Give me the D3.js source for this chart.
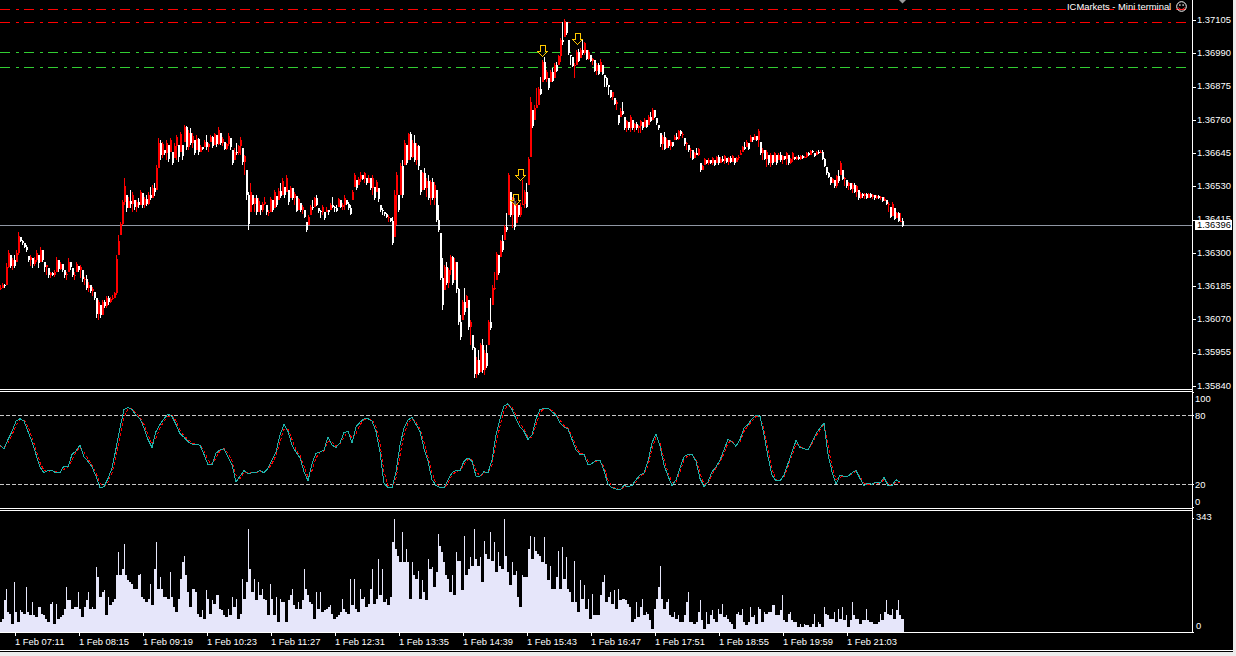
<!DOCTYPE html>
<html><head><meta charset="utf-8">
<script src="https://cdn.jsdelivr.net/npm/d3@7/dist/d3.min.js"></script>
<style>
html,body{margin:0;padding:0;background:#000;overflow:hidden}
svg{display:block}
text{font-family:"Liberation Sans",Arial,sans-serif;font-size:9.4px;fill:#fff}
.crisp{shape-rendering:crispEdges}
</style></head><body>
<svg id="c" width="1236" height="656"></svg>
<script>
// Prices are in points above 1.35000
const highs=[
1189,1196,1192,1265,1310,1293,1282,1293,1310,1372,
1355,1345,1334,1327,1289,1293,1282,1286,1310,1293,
1320,1310,1268,1258,1248,1234,1234,1241,1286,1275,
1268,1262,1241,1234,1282,1268,1248,1234,1268,1255,
1258,1241,1217,1224,1199,1189,1182,1165,1144,1137,
1120,1137,1137,1151,1151,1148,1154,1165,1293,1362,
1407,1483,1559,1500,1493,1517,1510,1483,1483,1490,
1517,1507,1493,1500,1510,1528,1535,1542,1604,1697,
1690,1683,1656,1690,1673,1697,1649,1680,1707,1673,
1718,1673,1742,1739,1725,1732,1714,1690,1707,1697,
1673,1666,1690,1707,1680,1707,1704,1714,1707,1735,
1714,1701,1683,1680,1714,1697,1656,1663,1680,1673,
1701,1663,1638,1586,1510,1542,1500,1490,1500,1490,
1466,1476,1493,1466,1448,1493,1483,1517,1497,1524,
1542,1559,1528,1569,1517,1531,1524,1510,1497,1490,
1472,1466,1448,1407,1431,1466,1483,1493,1500,1455,
1448,1466,1441,1459,1448,1472,1493,1462,1466,1490,
1483,1472,1500,1483,1476,1466,1517,1576,1552,1562,
1579,1569,1579,1559,1569,1559,1569,1528,1552,1524,
1466,1455,1441,1438,1431,1421,1424,1517,1579,1500,
1611,1621,1690,1673,1714,1718,1690,1707,1680,1673,
1586,1579,1593,1559,1569,1552,1559,1545,1517,1466,
1369,1282,1258,1268,1248,1293,1289,1282,1268,1179,
1085,1137,1179,1154,1137,1068,1016,975,940,964,
989,1002,964,982,1068,1144,1189,1234,1303,1293,
1345,1362,1396,1438,1576,1510,1493,1490,1483,1466,
1472,1552,1517,1542,1631,1839,1794,1811,1870,1873,
1908,1967,1977,1932,1904,1932,1939,1956,1960,1984,
2043,2098,2108,2098,2036,1984,1977,1956,2001,2004,
2008,2039,2029,2001,2001,1984,1974,1967,1956,1956,
1970,1949,1915,1908,1880,1863,1856,1835,1828,1777,
1801,1821,1770,1759,1752,1777,1759,1749,1752,1742,
1759,1752,1766,1759,1777,1787,1801,1794,1766,1742,
1714,1707,1718,1697,1690,1690,1683,1707,1714,1725,
1725,1718,1697,1683,1673,1663,1656,1649,1663,1663,
1611,1604,1628,1621,1628,1621,1631,1621,1635,1638,
1631,1635,1638,1628,1631,1635,1638,1628,1631,1638,
1656,1669,1683,1690,1680,1707,1701,1711,1704,1728,
1683,1663,1656,1656,1638,1645,1638,1649,1638,1645,
1649,1638,1635,1649,1638,1628,1649,1631,1635,1638,
1638,1638,1635,1649,1649,1656,1656,1645,1652,1656,
1656,1656,1628,1597,1579,1562,1559,1552,1569,1586,
1618,1586,1562,1552,1545,1542,1542,1542,1535,1517,
1510,1507,1507,1507,1507,1507,1504,1500,1500,1500,
1497,1493,1493,1483,1476,1459,1476,1455,1441,1441,
1438,1421];
const lows=[
1172,1179,1179,1189,1248,1248,1241,1248,1268,1293,
1338,1327,1317,1303,1268,1255,1248,1255,1268,1248,
1268,1268,1234,1224,1213,1213,1220,1217,1234,1234,
1241,1234,1213,1206,1234,1241,1217,1206,1234,1234,
1213,1199,1189,1172,1165,1161,1151,1137,1075,1068,
1075,1085,1110,1110,1120,1127,1137,1144,1154,1293,
1362,1396,1466,1441,1455,1455,1441,1448,1441,1455,
1466,1455,1455,1462,1466,1483,1490,1497,1517,1593,
1621,1628,1638,1621,1614,1649,1604,1628,1621,1614,
1649,1621,1683,1656,1656,1673,1663,1638,1656,1638,
1649,1656,1666,1656,1649,1683,1663,1673,1666,1673,
1673,1669,1656,1656,1669,1656,1604,1621,1638,1638,
1638,1604,1569,1483,1379,1441,1466,1441,1431,1441,
1431,1441,1466,1431,1427,1441,1441,1455,1459,1483,
1490,1500,1490,1510,1466,1490,1483,1466,1441,1448,
1441,1434,1421,1372,1396,1431,1448,1459,1462,1438,
1421,1431,1414,1441,1431,1448,1455,1441,1441,1459,
1455,1448,1448,1466,1448,1431,1483,1528,1517,1535,
1545,1552,1541,1535,1541,1517,1500,1483,1510,1476,
1441,1431,1427,1421,1407,1407,1327,1355,1396,1441,
1500,1490,1604,1604,1621,1621,1628,1614,1604,1586,
1500,1517,1517,1493,1483,1466,1483,1466,1407,1372,
1206,1103,1172,1189,1179,1224,1189,1206,1161,1051,
999,1068,1085,1110,1033,982,964,868,868,878,
888,885,878,902,982,1033,1120,1172,1206,1224,
1286,1303,1345,1372,1431,1424,1386,1379,1403,1424,
1424,1466,1455,1455,1535,1631,1732,1759,1801,1811,
1846,1891,1898,1891,1863,1891,1891,1904,1925,1949,
1960,2018,2046,2053,1984,1949,1942,1904,1949,1960,
1974,1984,1984,1967,1967,1960,1949,1925,1915,1915,
1925,1915,1873,1873,1846,1835,1828,1811,1794,1742,
1770,1777,1725,1718,1725,1718,1725,1718,1725,1714,
1714,1725,1735,1732,1742,1752,1759,1766,1742,1725,
1666,1656,1656,1663,1663,1656,1666,1690,1690,1690,
1704,1697,1669,1656,1649,1628,1621,1628,1638,1635,
1580,1587,1604,1607,1604,1607,1604,1600,1611,1604,
1611,1614,1607,1611,1604,1611,1614,1604,1614,1621,
1638,1649,1656,1666,1656,1683,1683,1690,1687,1666,
1638,1621,1621,1597,1604,1597,1604,1614,1604,1621,
1614,1607,1621,1604,1604,1607,1614,1621,1621,1621,
1621,1625,1628,1628,1635,1638,1645,1631,1638,1642,
1645,1621,1597,1569,1559,1535,1542,1524,1524,1542,
1569,1552,1531,1524,1517,1517,1507,1507,1493,1483,
1486,1490,1486,1486,1490,1490,1486,1483,1486,1486,
1483,1476,1479,1466,1441,1421,1427,1414,1421,1407,
1407,1389];
const closes=[
1180,1190,1185,1250,1300,1255,1275,1255,1300,1360,
1340,1335,1320,1310,1275,1285,1260,1275,1300,1265,
1310,1275,1250,1262,1225,1230,1225,1235,1275,1245,
1260,1240,1225,1228,1270,1250,1225,1225,1262,1240,
1250,1210,1210,1180,1190,1170,1175,1145,1090,1130,
1085,1130,1115,1145,1130,1140,1145,1160,1280,1340,
1400,1475,1530,1455,1480,1470,1500,1460,1475,1465,
1510,1465,1485,1470,1500,1490,1525,1510,1595,1680,
1640,1675,1645,1680,1625,1690,1610,1670,1700,1630,
1710,1635,1735,1665,1715,1680,1705,1645,1695,1650,
1665,1660,1685,1665,1675,1700,1670,1710,1675,1725,
1680,1695,1660,1675,1705,1665,1610,1650,1645,1668,
1690,1615,1635,1500,1400,1510,1470,1490,1440,1480,
1450,1470,1475,1440,1440,1485,1450,1510,1465,1515,
1495,1550,1500,1560,1475,1525,1490,1505,1445,1485,
1450,1460,1425,1380,1425,1460,1455,1490,1465,1445,
1440,1460,1420,1450,1440,1465,1460,1455,1445,1485,
1460,1465,1490,1470,1455,1435,1510,1570,1525,1555,
1570,1555,1575,1540,1560,1525,1560,1490,1545,1485,
1450,1445,1435,1425,1425,1410,1335,1500,1570,1450,
1600,1500,1680,1610,1710,1630,1680,1620,1670,1600,
1510,1575,1525,1550,1490,1545,1490,1535,1415,1380,
1215,1120,1250,1195,1240,1285,1195,1270,1175,1060,
1010,1130,1095,1150,1045,1060,970,880,930,885,
980,895,955,910,1060,1040,1180,1180,1295,1230,
1340,1310,1390,1380,1570,1430,1480,1390,1470,1430,
1460,1470,1510,1460,1625,1820,1740,1800,1810,1865,
1850,1960,1900,1925,1870,1925,1895,1950,1930,1980,
2035,2030,2100,2060,1990,1980,1945,1950,1995,1965,
2000,1990,2025,1970,1995,1965,1970,1930,1950,1920,
1960,1920,1905,1880,1875,1840,1860,1815,1820,1750,
1790,1780,1730,1755,1730,1770,1730,1745,1730,1738,
1755,1730,1760,1735,1770,1755,1795,1770,1750,1730,
1675,1700,1660,1690,1670,1685,1670,1700,1695,1720,
1710,1712,1675,1680,1655,1655,1625,1645,1640,1660,
1585,1600,1625,1610,1622,1610,1628,1605,1630,1610,
1625,1618,1635,1615,1628,1615,1635,1610,1628,1630,
1645,1665,1660,1685,1660,1700,1690,1705,1690,1720,
1645,1655,1625,1650,1610,1640,1610,1645,1610,1640,
1620,1635,1625,1645,1610,1625,1645,1625,1630,1625,
1635,1628,1632,1645,1640,1652,1648,1635,1650,1645,
1650,1625,1600,1575,1562,1540,1555,1530,1565,1550,
1610,1555,1558,1530,1540,1520,1535,1510,1530,1490,
1505,1495,1502,1490,1505,1492,1500,1490,1497,1490,
1492,1480,1488,1470,1470,1425,1470,1418,1437,1410,
1410,1392];
const volumes=[
30,40,95,130,60,55,25,150,60,30,65,60,55,135,60,50,90,50,45,75,
75,55,50,40,30,85,90,25,85,40,45,50,70,135,95,95,70,75,75,120,
70,45,75,95,120,70,75,70,195,165,105,120,125,50,105,80,90,100,170,240,
170,190,265,170,155,150,145,130,130,170,175,105,100,90,100,145,80,190,270,130,
165,130,105,105,100,180,105,75,60,100,160,210,230,170,120,75,130,130,120,55,
45,65,40,125,100,55,95,85,110,110,70,65,50,45,70,50,105,75,100,40,
55,160,100,150,310,190,120,160,95,150,110,130,100,95,50,145,100,50,105,30,
100,90,90,30,95,110,130,80,70,90,70,95,190,130,110,90,85,40,120,70,
120,60,65,70,75,80,55,40,45,50,60,100,70,60,55,160,80,160,70,60,
130,100,105,75,85,130,190,85,100,220,110,190,90,100,80,105,270,340,250,230,
210,300,210,250,210,100,210,170,160,185,100,155,120,95,220,190,195,135,180,295,
260,240,210,170,160,120,170,110,240,215,
215,125,290,170,190,225,200,310,220,200,225,150,275,235,220,300,215,270,180,240,
200,190,340,230,180,140,210,170,185,105,75,170,165,165,250,290,220,285,245,235,
230,210,285,205,155,200,130,130,165,245,130,255,160,225,130,120,90,215,90,60,
155,100,140,70,100,40,115,50,50,50,110,150,170,90,105,120,85,125,70,130,
95,100,100,95,85,75,30,40,90,45,75,100,50,60,55,35,10,70,100,135,
200,100,70,90,100,50,45,60,40,50,30,30,50,90,120,30,30,25,30,60,
95,35,10,60,25,50,65,40,30,70,55,85,45,50,40,30,25,10,55,60,
50,70,30,20,30,75,45,50,25,75,70,30,60,55,60,60,80,80,50,50,
65,110,35,30,55,60,35,30,30,15,25,15,25,20,20,15,25,55,15,30,
25,15,75,55,50,40,40,60,30,70,40,75,35,50,15,35,90,50,40,40,
25,35,35,70,35,30,30,25,25,30,55,35,60,95,55,50,70,40,65,95,
50,40];
const stochMain=[
54,51,59,66,75,77,75,66,57,46,35,30,32,32,30,30,36,35,46,49,
54,44,40,35,27,17,18,25,34,51,69,85,87,85,80,77,69,59,52,66,
72,77,81,79,72,64,61,57,55,55,54,46,37,37,47,50,51,44,37,22,
27,32,29,30,30,32,30,34,41,48,63,72,66,54,48,43,31,23,38,47,
48,50,61,54,52,56,65,66,56,70,74,77,77,75,66,48,21,17,17,31,
54,69,76,78,72,66,51,40,24,19,17,17,24,30,32,32,
40,43,40,27,27,31,30,41,63,77,88,90,85,77,70,66,59,63,77,85,
86,86,83,80,73,70,68,59,50,46,46,37,38,41,41,32,20,17,16,15,
19,18,19,24,28,30,40,56,64,53,37,27,19,24,34,44,46,46,40,25,
18,22,31,35,41,50,59,57,53,59,69,72,77,80,79,63,44,28,23,23,
28,38,48,58,52,51,50,57,64,69,73,46,31,20,28,27,27,30,32,25,
19,21,20,22,21,26,19,19,24,22];
const stochSignal=[
53,52,56,63,71,76,76,70,61,50,39,32,31,32,31,30,33,35,41,48,
52,48,42,37,30,21,18,22,30,44,62,78,86,86,82,78,72,63,55,60,
69,75,79,80,75,67,62,59,56,55,54,49,41,37,43,49,51,47,40,28,
25,30,30,30,30,31,31,33,38,45,57,68,68,59,50,45,36,26,32,43,
48,49,57,57,53,55,61,66,60,64,72,76,77,76,70,55,31,19,17,25,
45,63,73,77,74,68,57,44,30,21,18,17,21,28,31,32,
37,42,41,32,27,30,30,37,54,71,84,89,87,80,73,68,61,61,72,82,
86,86,84,81,76,71,69,62,53,47,46,40,38,40,41,35,24,18,17,15,
18,18,19,22,27,29,36,51,61,56,42,30,22,22,31,41,45,46,42,30,
20,21,28,34,39,47,56,58,54,57,66,71,75,79,79,68,50,33,24,23,
26,35,45,55,53,51,50,55,62,67,72,54,36,24,26,27,27,29,31,27,
21,20,20,21,21,24,21,19,22,22];
const priceTicks=[2105,1990,1875,1760,1645,1530,1415,1300,1185,1070,955,840];
const currentPrice=1396;
const redLevels=[2143,2098];
const greenLevels=[1994,1942];
const stochLevels=[80,20];
const stochTicks=[100,80,20,0];
const volumeTicks=[343,0];
const timeTicks=[431,495,559,623,687,751,815,879,943,1007,1071,1135,1199,1263];
const timeLabels=["1 Feb 07:11","1 Feb 08:15","1 Feb 09:19","1 Feb 10:23","1 Feb 11:27","1 Feb 12:31","1 Feb 13:35","1 Feb 14:39","1 Feb 15:43","1 Feb 16:47","1 Feb 17:51","1 Feb 18:55","1 Feb 19:59","1 Feb 21:03"];
const arrowMinutes=[958,993,936,931];
const arrowPrices=[1982,2023,1552,1466];
const startMinute=416, barMinutes=2, stochMinutes=4;

const svg=d3.select("#c");
const WHITE="#fff", R=1192;
const x=d3.scaleLinear().domain([startMinute,startMinute+R]).range([0,R]);
const yP=d3.scaleLinear().domain([840,2105]).range([386,20]);
const yS=d3.scaleLinear().domain([0,100]).range([507.3,392.3]);
const yV=d3.scaleLinear().domain([0,343]).range([632,518]);
const px=v=>Math.round(v);
const barMin=i=>startMinute+i*barMinutes;

// chrome
svg.append("rect").attr("x",0).attr("y",652).attr("width",1236).attr("height",4).attr("fill","#ececec").attr("class","crisp");
svg.append("rect").attr("x",1233).attr("y",0).attr("width",3).attr("height",656).attr("fill","#ececec").attr("class","crisp");
svg.append("rect").attr("x",0).attr("y",650).attr("width",1233).attr("height",1).attr("fill","#fff").attr("class","crisp");

// level lines
const levels=[...redLevels.map(v=>({v,c:"#ff0000"})),...greenLevels.map(v=>({v,c:"#32cd32"}))];
svg.append("g").selectAll("line").data(levels).join("line").attr("class","crisp")
 .attr("x1",0).attr("x2",1186).attr("y1",d=>px(yP(d.v))+.5).attr("y2",d=>px(yP(d.v))+.5)
 .attr("stroke",d=>d.c).attr("stroke-dasharray","9.5 6 3 5.5");
svg.append("line").attr("class","crisp").attr("x1",0).attr("x2",R).attr("y1",px(yP(currentPrice))+.5).attr("y2",px(yP(currentPrice))+.5).attr("stroke","#8f96a3");

// bars
const bars=d3.range(highs.length).map(i=>({i,h:highs[i],l:lows[i],c:closes[i],o:i?closes[i-1]:closes[0]}));
const col=d=>d.c>=d.o?"#ff0000":"#ffffff";
const gb=svg.append("g").attr("class","crisp");
gb.selectAll(".w").data(bars).join("rect").attr("class","w")
 .attr("x",d=>px(x(barMin(d.i)))).attr("width",1)
 .attr("y",d=>px(yP(d.h))).attr("height",d=>Math.max(1,px(yP(d.l))-px(yP(d.h))))
 .attr("fill",col);
gb.selectAll(".b").data(bars).join("rect").attr("class","b")
 .attr("x",d=>px(x(barMin(d.i)))).attr("width",2)
 .attr("y",d=>px(yP(Math.min(d.h,Math.max(d.o,d.c)))))
 .attr("height",d=>Math.max(1,px(yP(Math.max(d.l,Math.min(d.o,d.c))))-px(yP(Math.min(d.h,Math.max(d.o,d.c))))))
 .attr("fill",col);

// arrows
svg.append("g").selectAll("path").data(arrowMinutes).join("path")
 .attr("transform",(d,i)=>`translate(${px(x(d))+.5},${px(yP(arrowPrices[i]))+.5})`)
 .attr("d","M0,0L-5.5,-5.5L-2.5,-5.5L-2.5,-11.5L2.5,-11.5L2.5,-5.5L5.5,-5.5Z")
 .attr("fill","#000").attr("fill-opacity",.6).attr("stroke","#ffc800").attr("stroke-width",1).attr("class","crisp");

// last-bar marker at the top
const lastX=px(x(barMin(highs.length-1)));
svg.append("path").attr("d",`M${lastX-3},0L${lastX+4},0L${lastX+.5},3.5Z`).attr("fill","#9a9a9a");

// frames
const frame=(y)=>svg.append("line").attr("class","crisp").attr("x1",0).attr("x2",R+1).attr("y1",y+.5).attr("y2",y+.5).attr("stroke",WHITE);
[389,391,508,510,632].forEach(frame);
svg.append("line").attr("class","crisp").attr("x1",R+.5).attr("x2",R+.5).attr("y1",0).attr("y2",633).attr("stroke",WHITE);

// axes
const axP=d3.axisRight(yP).tickValues(priceTicks).tickSize(4).tickPadding(1).tickFormat(v=>(1.35+v/100000).toFixed(5));
const gP=svg.append("g").attr("transform",`translate(${R},0)`).call(axP);
const styleAxis=g=>{g.select(".domain").remove();g.selectAll("line").attr("stroke",WHITE).attr("class","crisp");g.selectAll("text").attr("fill",WHITE);};
styleAxis(gP);
gP.selectAll("text").attr("dy","2.2px");
// current price label
const yc=px(yP(currentPrice));
svg.append("rect").attr("class","crisp").attr("x",R+3).attr("y",yc-5).attr("width",37).attr("height",10).attr("fill","#fff");
svg.append("text").attr("x",R+5).attr("y",yc+3).style("fill","#000").text((1.35+currentPrice/100000).toFixed(5));

// stochastic
svg.append("g").selectAll("line").data(stochLevels).join("line").attr("class","crisp")
 .attr("x1",0).attr("x2",R).attr("y1",d=>px(yS(d))+.5).attr("y2",d=>px(yS(d))+.5)
 .attr("stroke","#c8c8c8").attr("stroke-dasharray","4 2");
const sx=i=>x(startMinute+i*stochMinutes);
const line=d3.line().x((d,i)=>sx(i)).y(d=>yS(d));
svg.append("path").datum(stochSignal).attr("class","crisp").attr("d",line).attr("fill","none").attr("stroke","#ff0000").attr("stroke-dasharray","3 2");
svg.append("path").datum(stochMain).attr("class","crisp").attr("d",line).attr("fill","none").attr("stroke","#20b2aa");
const stochOffset={100:6,80:0,20:0,0:-6};
const gS=svg.append("g").attr("transform",`translate(${R},0)`).call(d3.axisRight(yS).tickValues(stochTicks).tickSize(2).tickPadding(1).tickFormat(d3.format("d")));
styleAxis(gS);
gS.selectAll("text").attr("dy",d=>(stochOffset[d]+3.2)+"px");

// volume: a one-pixel spike on top of a base shared with the next bar
const gv=svg.append("g").attr("class","crisp");
gv.selectAll(".s").data(volumes).join("rect").attr("class","s")
 .attr("x",(d,i)=>px(x(barMin(i)))).attr("width",1)
 .attr("y",d=>px(yV(d))).attr("height",d=>632-px(yV(d))).attr("fill","#e6e6fa");
gv.selectAll(".f").data(volumes).join("rect").attr("class","f")
 .attr("x",(d,i)=>px(x(barMin(i)))).attr("width",2)
 .attr("y",(d,i)=>px(yV(Math.min(d,i+1<volumes.length?volumes[i+1]:d))))
 .attr("height",(d,i)=>632-px(yV(Math.min(d,i+1<volumes.length?volumes[i+1]:d)))).attr("fill","#e6e6fa");
const gV=svg.append("g").attr("transform",`translate(${R},0)`).call(d3.axisRight(yV).tickValues(volumeTicks).tickSize(2).tickPadding(2));
styleAxis(gV);
gV.selectAll("text").attr("dy",d=>d?"1.5px":"-3.5px");

// time axis
const axT=d3.axisBottom(x).tickValues(timeTicks).tickSize(4).tickPadding(2).tickFormat((d,i)=>timeLabels[i]);
const gT=svg.append("g").attr("transform","translate(0,632)").call(axT);
styleAxis(gT);
gT.selectAll("text").attr("text-anchor","start").attr("dx","-0.5px");

// caption
svg.append("text").attr("x",1067).attr("y",9.5).text("ICMarkets - Mini terminal");
const sm=svg.append("g").attr("transform","translate(1181.5,6.5)");
sm.append("circle").attr("r",4.8).attr("fill","none").attr("stroke","#fff");
sm.append("path").attr("d","M-3,1A3.2,3.2 0 0 0 3,1").attr("fill","none").attr("stroke","#ff3030");
sm.selectAll(".e").data([-1.6,1.6]).join("circle").attr("cx",d=>d).attr("cy",-1.4).attr("r",.8).attr("fill","#fff");
</script></body></html>
